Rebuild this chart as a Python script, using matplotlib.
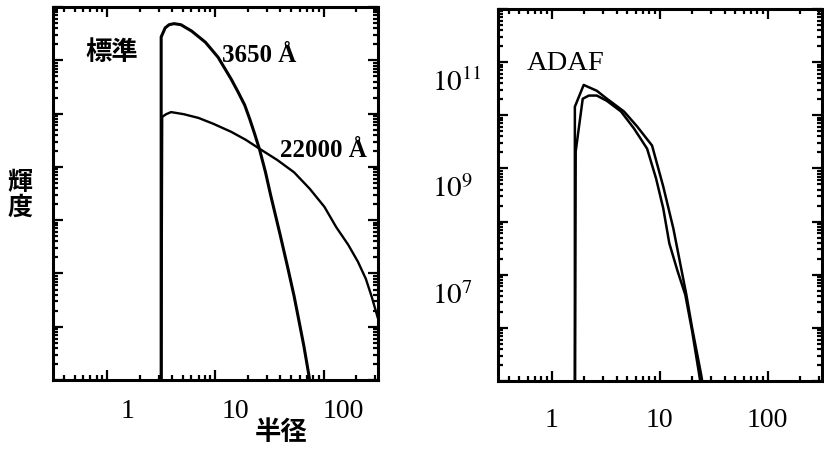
import numpy as np
import matplotlib
matplotlib.use("Agg")
import matplotlib.pyplot as plt
from matplotlib.ticker import LogLocator, NullFormatter, FixedLocator, FuncFormatter
from matplotlib.transforms import ScaledTranslation

plt.rcParams['font.family'] = ['Liberation Serif', 'DejaVu Serif']
plt.rcParams['mathtext.fontset'] = 'stix'

# left panel: standard disk, radius vs log10 brightness
r_3650 = [3.16, 3.16, 3.44, 3.74, 4.15, 4.81, 6.05, 8.11, 10.6, 14.0, 16.2, 18.7,
          20.8, 23.1, 25.7, 29.1, 32.3, 39.8, 46.1, 53.4, 59.3, 65.8, 73.1, 76.2]
logL_3650 = [-1.0, 6.44, 6.61, 6.67, 6.69, 6.67, 6.55, 6.34, 6.06, 5.65, 5.41, 5.16,
             4.90, 4.62, 4.32, 3.90, 3.49, 2.72, 2.16, 1.58, 1.11, 0.64, 0.10, -0.17]
r_22000 = [3.16, 3.23, 3.51, 3.90, 5.12, 7.00, 9.59, 14.0, 19.1, 25.7, 37.4, 53.4,
           74.6, 102.0, 131.0, 169.0, 208.0, 246.0, 279.0, 316.0]
logL_22000 = [-1.0, 4.94, 4.99, 5.03, 4.99, 4.92, 4.81, 4.66, 4.51, 4.34, 4.13, 3.90,
              3.59, 3.25, 2.87, 2.54, 2.22, 1.90, 1.56, 1.18]

# right panel: ADAF
r_adaf1 = [1.64, 1.64, 1.98, 2.62, 3.25, 4.68, 6.18, 8.51, 10.8, 13.4, 17.7, 20.0,
           24.3, 25.4]
logL_adaf1 = [4.0, 10.16, 10.57, 10.46, 10.31, 10.07, 9.79, 9.43, 8.66, 7.87, 6.62,
              6.00, 5.11, 4.87]
r_adaf2 = [1.64, 1.67, 1.94, 2.21, 2.62, 3.25, 4.39, 5.79, 7.66, 9.27, 10.8, 12.3,
           14.6, 17.3, 20.0, 23.3, 24.3]
logL_adaf2 = [4.0, 9.32, 10.31, 10.37, 10.37, 10.27, 10.07, 9.75, 9.37, 8.81, 8.25,
              7.59, 7.08, 6.62, 5.94, 5.11, 4.87]

xticks = [1, 10, 100]
xticklabels = ['1', '10', '100']
adaf_yticks = [1e7, 1e9, 1e11]

fig = plt.figure(figsize=(8.24, 4.52), dpi=100)
ax1 = fig.add_axes([0.0643, 0.157, 0.394, 0.825])
ax2 = fig.add_axes([0.604, 0.155, 0.393, 0.823])

for ax in (ax1, ax2):
    ax.set_xscale('log')
    ax.set_yscale('log')
    ax.set_xlim(10**-0.5, 10**2.5)
    for s in ax.spines.values():
        s.set_linewidth(2.2)
    ax.xaxis.set_major_locator(FixedLocator(xticks))
    ax.xaxis.set_minor_locator(LogLocator(base=10, subs=np.arange(2, 10), numticks=100))
    ax.xaxis.set_minor_formatter(NullFormatter())
    ax.set_xticklabels(xticklabels)
    ax.yaxis.set_major_locator(LogLocator(base=10, numticks=100))
    ax.yaxis.set_minor_locator(LogLocator(base=10, subs=np.arange(2, 10), numticks=100))
    ax.yaxis.set_minor_formatter(NullFormatter())
    ax.tick_params(which='both', direction='in', top=True, right=True, width=1.6,
                   labelsize=20)
    ax.tick_params(which='major', length=7)
    ax.tick_params(which='minor', length=3.5)

ax1.set_ylim(1e0, 1e7)
ax1.yaxis.set_major_formatter(NullFormatter())
ax1.tick_params(axis='x', pad=13)
ax1.plot(r_3650, 10.0**np.array(logL_3650), color='black', lw=2.2)
ax1.plot(r_22000, 10.0**np.array(logL_22000), color='black', lw=1.7)
shift = ScaledTranslation(0.2, 0, fig.dpi_scale_trans)
for lab in ax1.get_xticklabels():
    lab.set_transform(lab.get_transform() + shift)

ax1.text(0.182, 0.882, '標準', transform=ax1.transAxes, ha='center', va='center',
         fontsize=19, fontweight='bold', family=['Noto Sans CJK JP'])
ax1.text(0.52, 0.874, '3650 Å', transform=ax1.transAxes, ha='left', va='center',
         fontsize=18, fontweight='bold')
ax1.text(0.698, 0.619, '22000 Å', transform=ax1.transAxes, ha='left', va='center',
         fontsize=18, fontweight='bold')
fig.text(20 / 824, 1 - 195 / 452, '輝\n度', ha='center', va='center', fontsize=18,
         fontweight='bold', family=['Noto Sans CJK JP'], linespacing=1.05)
fig.text(281 / 824, 1 - 433 / 452, '半径', ha='center', va='center', fontsize=19,
         fontweight='bold', family=['Noto Sans CJK JP'])

ax2.set_ylim(1e5, 1e12)
ax2.plot(r_adaf1, 10.0**np.array(logL_adaf1), color='black', lw=1.8)
ax2.plot(r_adaf2, 10.0**np.array(logL_adaf2), color='black', lw=1.8)
ax2.tick_params(axis='x', pad=19)
ax2.tick_params(axis='y', which='major', pad=0)
ax2.yaxis.set_major_formatter(
    FuncFormatter(lambda v, p: '$10^{%d}$' % round(np.log10(v)) if v in adaf_yticks else ''))
ax2.text(0.0895, 0.855, 'ADAF', transform=ax2.transAxes, ha='left', va='center',
         fontsize=20.5)
fig.canvas.draw()
yshift = ScaledTranslation(-0.66, -0.17, fig.dpi_scale_trans)
for lab in ax2.get_yticklabels():
    lab.set_horizontalalignment('left')
    lab.set_fontsize(21)
    lab.set_transform(lab.get_transform() + yshift)

fig.savefig('out.png', dpi=100)
